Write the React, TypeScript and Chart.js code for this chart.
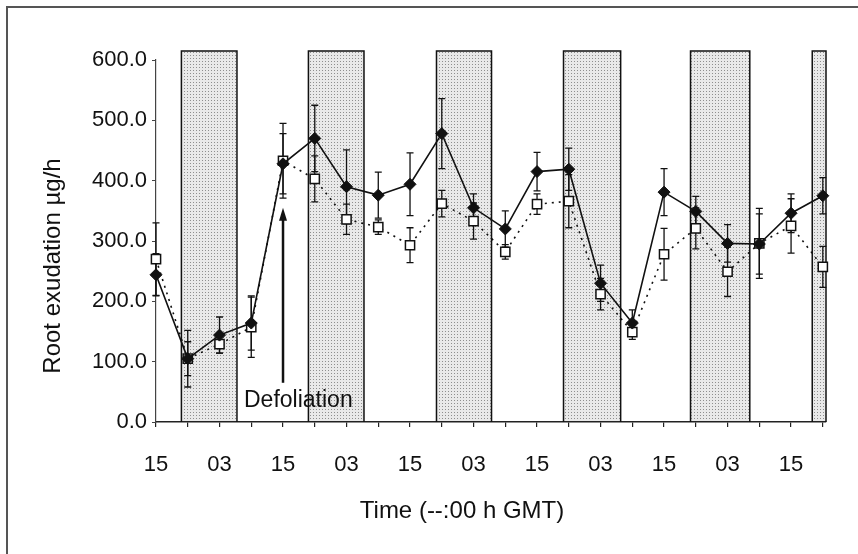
import React, { useEffect, useRef } from 'react';
import { Chart, registerables } from 'chart.js';

Chart.register(...registerables);

// Sampling times, hours after the first 15:00 reading
const hours = [0, 6, 12, 18, 24, 30, 36, 42, 48, 54, 60, 66, 72, 78, 84, 90, 96, 102, 108, 114, 120, 126];

// Filled diamonds, solid line
const exudationFilled = [244, 105, 144, 164, 428, 470, 390, 376, 394, 478, 355, 320, 415, 419, 230, 164, 381, 349, 296, 295, 346, 375];
const exudationFilledErr = [35, 47, 30, 45, 50, 55, 61, 38, 52, 58, 23, 30, 32, 35, 30, 22, 39, 25, 31, 50, 32, 30];

// Open squares, dotted line
const exudationOpen = [270, 105, 129, 157, 433, 403, 336, 323, 293, 362, 333, 282, 361, 366, 212, 149, 278, 321, 249, 296, 325, 257];
const exudationOpenErr = [60, 28, 15, 50, 62, 38, 25, 12, 29, 22, 30, 12, 17, 44, 26, 12, 43, 34, 41, 58, 45, 34];

// Dark periods (hours)
const nightStart = [4.8, 28.8, 53, 77, 101, 124];
const nightEnd = [15.3, 39.3, 63.4, 87.8, 112.2, 126.6];
const nightTop = 615;

// Axes
const xMin = 0;
const xMax = 126.6;
const xTickValues = [0, 6, 12, 18, 24, 30, 36, 42, 48, 54, 60, 66, 72, 78, 84, 90, 96, 102, 108, 114, 120, 126];
const xTickLabels = ['15', '', '03', '', '15', '', '03', '', '15', '', '03', '', '15', '', '03', '', '15', '', '03', '', '15', ''];
const yMin = 0;
const yMax = 600;
const yTickValues = [0, 100, 200, 300, 400, 500, 600];
const yTickLabels = ['0.0', '100.0', '200.0', '300.0', '400.0', '500.0', '600.0'];

const xTitle = 'Time (--:00 h GMT)';
const yTitle = 'Root exudation \u00b5g/h';

// Annotation
const defoliationHour = 24;
const defoliationArrowFrom = 65;
const defoliationArrowTo = 355;
const defoliationLabel = 'Defoliation';

const FONT = '"Liberation Sans", Arial, Helvetica, sans-serif';
const INK = '#111';

export default function App() {
  const ref = useRef<HTMLCanvasElement>(null);

  useEffect(() => {
    const canvas = ref.current!;
    const c2d = canvas.getContext('2d')!;
    const tile = document.createElement('canvas');
    tile.width = 3;
    tile.height = 3;
    const t = tile.getContext('2d')!;
    t.fillStyle = '#e9e9e9';
    t.fillRect(0, 0, 3, 3);
    t.fillStyle = '#8e8e8e';
    t.fillRect(1, 1, 1, 1);
    const pattern = c2d.createPattern(tile, 'repeat')!;

    const decorations = {
      id: 'decorations',
      beforeDatasetsDraw(chart: any) {
        const { ctx, scales } = chart;
        const xs = scales.x;
        const ys = scales.y;
        ctx.save();
        const yTop = ys.getPixelForValue(nightTop);
        const yBot = ys.getPixelForValue(0);
        for (let i = 0; i < nightStart.length; i++) {
          const x0 = xs.getPixelForValue(nightStart[i]);
          const x1 = xs.getPixelForValue(nightEnd[i]);
          ctx.fillStyle = pattern;
          ctx.fillRect(x0, yTop, x1 - x0, yBot - yTop - 1);
          ctx.beginPath();
          ctx.moveTo(x0, yBot);
          ctx.lineTo(x0, yTop);
          ctx.lineTo(x1, yTop);
          ctx.lineTo(x1, yBot);
          ctx.strokeStyle = INK;
          ctx.lineWidth = 1.5;
          ctx.stroke();
        }
        const drawErr = (vals: number[], errs: number[]) => {
          ctx.strokeStyle = INK;
          ctx.lineWidth = 1.3;
          for (let i = 0; i < hours.length; i++) {
            const px = xs.getPixelForValue(hours[i]);
            const hi = ys.getPixelForValue(vals[i] + errs[i]);
            const lo = ys.getPixelForValue(vals[i] - errs[i]);
            ctx.beginPath();
            ctx.moveTo(px, hi);
            ctx.lineTo(px, lo);
            ctx.moveTo(px - 3.5, hi);
            ctx.lineTo(px + 3.5, hi);
            ctx.moveTo(px - 3.5, lo);
            ctx.lineTo(px + 3.5, lo);
            ctx.stroke();
          }
        };
        drawErr(exudationOpen, exudationOpenErr);
        drawErr(exudationFilled, exudationFilledErr);
        ctx.restore();
      },
      afterDatasetsDraw(chart: any) {
        const { ctx, scales } = chart;
        const xs = scales.x;
        const ys = scales.y;
        ctx.save();
        // arrow
        const ax = xs.getPixelForValue(defoliationHour);
        const a0 = ys.getPixelForValue(defoliationArrowFrom);
        const a1 = ys.getPixelForValue(defoliationArrowTo);
        ctx.strokeStyle = INK;
        ctx.fillStyle = INK;
        ctx.lineWidth = 2.5;
        ctx.beginPath();
        ctx.moveTo(ax, a0);
        ctx.lineTo(ax, a1 + 10);
        ctx.stroke();
        ctx.beginPath();
        ctx.moveTo(ax, a1);
        ctx.lineTo(ax - 4, a1 + 13);
        ctx.lineTo(ax + 4, a1 + 13);
        ctx.closePath();
        ctx.fill();
        // label
        ctx.font = `23px ${FONT}`;
        ctx.textAlign = 'left';
        ctx.textBaseline = 'alphabetic';
        ctx.fillText(defoliationLabel, ax - 39, a0 + 24);
        // axis titles
        const area = chart.chartArea;
        ctx.font = `24px ${FONT}`;
        ctx.textAlign = 'center';
        ctx.fillText(xTitle, area.left + 306, area.bottom + 96);
        ctx.translate(60, area.top + 206);
        ctx.rotate(-Math.PI / 2);
        ctx.fillText(yTitle, 0, 0);
        ctx.restore();
      },
    };

    const chart = new Chart(canvas, {
      type: 'line',
      data: {
        datasets: [
          {
            label: 'filled',
            data: hours.map((h, i) => ({ x: h, y: exudationFilled[i] })),
            borderColor: INK,
            borderWidth: 1.6,
            pointStyle: 'rectRot',
            pointRadius: 6,
            pointBackgroundColor: INK,
            pointBorderColor: INK,
            pointBorderWidth: 1,
            tension: 0,
            clip: false as any,
          },
          {
            label: 'open',
            data: hours.map((h, i) => ({ x: h, y: exudationOpen[i] })),
            borderColor: INK,
            borderWidth: 1.6,
            borderDash: [2, 5],
            pointStyle: 'rect',
            pointRadius: 6.5,
            pointBackgroundColor: '#fff',
            pointBorderColor: INK,
            pointBorderWidth: 1.5,
            tension: 0,
            clip: false as any,
          },
        ],
      },
      options: {
        animation: false,
        responsive: false,
        events: [],
        layout: { padding: { left: 0, right: 32, top: 60, bottom: 0 } },
        plugins: { legend: { display: false }, tooltip: { enabled: false } },
        scales: {
          x: {
            type: 'linear',
            min: xMin,
            max: xMax,
            afterBuildTicks: (axis: any) => {
              axis.ticks = xTickValues.map((v) => ({ value: v }));
            },
            afterFit: (axis: any) => {
              axis.height = 132;
            },
            ticks: {
              autoSkip: false,
              maxRotation: 0,
              padding: 25,
              color: INK,
              font: { family: FONT, size: 22 },
              callback: (_v: any, i: number) => xTickLabels[i],
            },
            grid: { display: true, drawOnChartArea: false, drawTicks: true, tickLength: 5, color: '#222', lineWidth: 1.2 },
            border: { display: true, color: '#222', width: 1.5 },
          },
          y: {
            type: 'linear',
            min: yMin,
            max: yMax,
            afterBuildTicks: (axis: any) => {
              axis.ticks = yTickValues.map((v) => ({ value: v }));
            },
            afterFit: (axis: any) => {
              axis.width = 156;
            },
            ticks: {
              padding: 5,
              color: INK,
              font: { family: FONT, size: 22 },
              callback: (_v: any, i: number) => yTickLabels[i],
            },
            grid: { display: true, drawOnChartArea: false, drawTicks: true, tickLength: 4, color: '#444', lineWidth: 1 },
            border: { display: true, color: '#444', width: 1.2 },
          },
        },
      },
      plugins: [decorations],
    });

    return () => chart.destroy();
  }, []);

  return (
    <div style={{ position: 'fixed', left: 0, top: 0, width: 858, height: 554, background: '#fff' }}>
      <div
        style={{
          position: 'absolute',
          left: 6,
          top: 6,
          width: 852,
          height: 548,
          boxSizing: 'border-box',
          borderLeft: '2px solid #555',
          borderTop: '2px solid #555',
        }}
      />
      <canvas ref={ref} width={858} height={554} style={{ position: 'absolute', left: 0, top: 0 }} />
    </div>
  );
}
